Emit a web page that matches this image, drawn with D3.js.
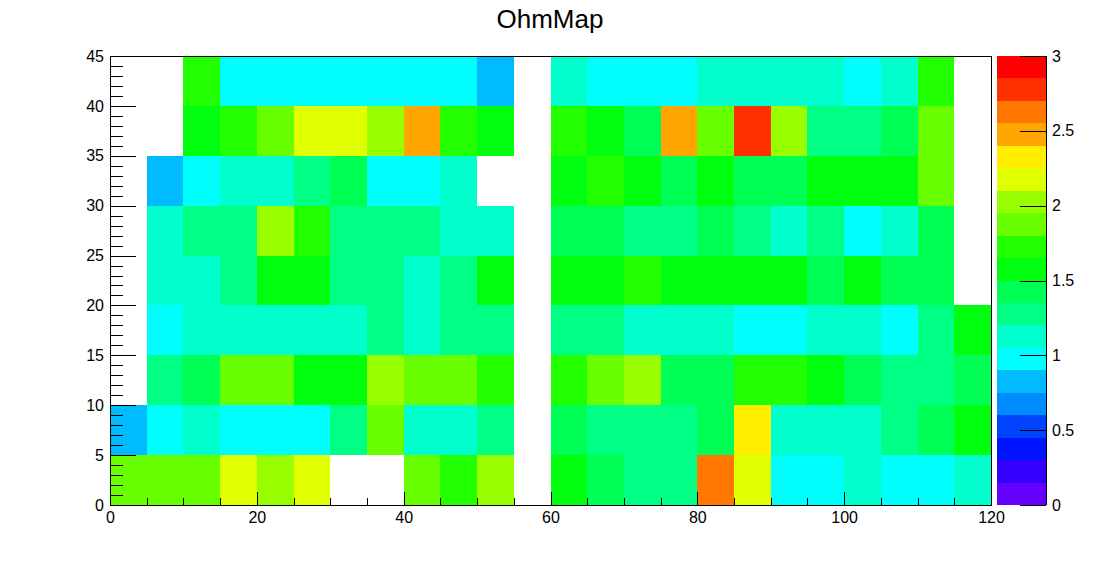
<!DOCTYPE html>
<html>
<head>
<meta charset="utf-8">
<script src="https://cdn.jsdelivr.net/npm/d3@7"></script>
<style>
  body { margin: 0; background: #fff; }
  svg { display: block; }
  text { font-family: "Liberation Sans", Arial, Helvetica, sans-serif; }
</style>
</head>
<body>
<svg id="chart" width="1102" height="562"></svg>
<script>
// ---- data ----
const title = "OhmMap";
const xBinEdges = d3.range(0, 125, 5);      // 0..120, 24 bins
const yBinEdges = d3.range(0, 50, 5);       // 0..45, 9 bins
const xTickLabels = [0, 20, 40, 60, 80, 100, 120];
const yTickLabels = [0, 5, 10, 15, 20, 25, 30, 35, 40, 45];
const zTickLabels = [0, 0.5, 1, 1.5, 2, 2.5, 3];
const zMin = 0, zMax = 3, nContours = 20;

// cell values, one row per y bin (bottom row first), one entry per x bin; null = empty
const row0  = [1.87,1.88,1.86,2.17,2.02,2.18,null,null,1.87,1.72,2.03,null,1.57,1.42,1.27,1.28,2.62,2.17,0.97,0.98,1.12,0.97,0.98,1.13];
const row5  = [0.82,0.97,1.12,0.98,0.97,0.96,1.27,1.88,1.12,1.13,1.28,null,1.42,1.27,1.28,1.27,1.43,2.32,1.12,1.13,1.12,1.27,1.42,1.57];
const row10 = [null,1.27,1.42,1.87,1.88,1.57,1.58,2.02,1.87,1.88,1.72,null,1.72,1.87,2.03,1.42,1.43,1.72,1.73,1.57,1.42,1.27,1.28,1.42];
const row15 = [null,0.97,1.12,1.13,1.12,1.13,1.12,1.27,1.12,1.28,1.27,null,1.27,1.28,1.12,1.13,1.12,0.97,0.98,1.12,1.13,0.97,1.27,1.57];
const row20 = [null,1.12,1.13,1.27,1.57,1.58,1.27,1.28,1.12,1.27,1.57,null,1.57,1.58,1.72,1.57,1.58,1.57,1.58,1.42,1.57,1.42,1.43,null];
const row25 = [null,1.12,1.27,1.28,2.02,1.72,1.27,1.28,1.27,1.12,1.13,null,1.42,1.43,1.27,1.28,1.42,1.27,1.12,1.27,0.97,1.12,1.42,null];
const row30 = [null,0.82,0.97,1.12,1.13,1.27,1.42,0.97,0.98,1.12,null,null,1.57,1.72,1.58,1.42,1.57,1.42,1.43,1.57,1.58,1.57,1.87,null];
const row35 = [null,null,1.57,1.72,1.87,2.17,2.18,2.02,2.47,1.72,1.57,null,1.72,1.57,1.42,2.47,1.87,2.77,2.02,1.27,1.28,1.42,1.87,null];
const row40 = [null,null,1.72,0.97,0.98,0.97,0.96,0.97,0.98,0.97,0.82,null,1.12,0.97,0.98,0.97,1.12,1.13,1.12,1.13,0.97,1.12,1.72,null];
const rows = [row0, row5, row10, row15, row20, row25, row30, row35, row40];

// ---- layout ----
const svg = d3.select("#chart");
const frame = { left: 110, right: 991, top: 56, bottom: 505 };
const pal = { left: 997, right: 1046 };

const x = d3.scaleLinear().domain([0, 120]).range([frame.left, frame.right]);
const y = d3.scaleLinear().domain([0, 45]).range([frame.bottom, frame.top]);
const z = d3.scaleLinear().domain([zMin, zMax]).range([frame.bottom, frame.top]);

// ROOT "pretty" rainbow palette (50 colours, HLS hue 280 -> 0), sampled for 20 contours
const pretty = d3.range(50).map(i => d3.hsl(280 - (i + 1) * 5.6, 1, 0.5).formatHex());
const contourColors = d3.range(nContours).map(k => pretty[Math.floor((k + 0.99) * 50 / nContours)]);
const levels = d3.range(1, nContours).map(k => zMin + k * (zMax - zMin) / nContours);
const color = d3.scaleThreshold().domain(levels).range(contourColors);

// ---- cells ----
const cells = [];
rows.forEach((r, j) => r.forEach((v, i) => {
  if (v !== null) cells.push({ x0: xBinEdges[i], x1: xBinEdges[i + 1], y0: yBinEdges[j], y1: yBinEdges[j + 1], v });
}));
svg.append("g").selectAll("rect").data(cells).join("rect")
  .attr("x", d => x(d.x0))
  .attr("y", d => y(d.y1))
  .attr("width", d => x(d.x1) - x(d.x0))
  .attr("height", d => y(d.y0) - y(d.y1))
  .attr("fill", d => color(d.v))
  .attr("shape-rendering", "crispEdges");

// ---- frame ----
svg.append("rect")
  .attr("x", frame.left).attr("y", frame.top)
  .attr("width", frame.right - frame.left).attr("height", frame.bottom - frame.top)
  .attr("fill", "none").attr("stroke", "#000").attr("stroke-width", 1)
  .attr("shape-rendering", "crispEdges");

function styleAxis(g, fs) {
  g.select(".domain").remove();
  g.selectAll("line").attr("stroke", "#000").attr("shape-rendering", "crispEdges");
  g.selectAll("text").attr("font-size", fs).attr("fill", "#000")
    .attr("font-family", "'Liberation Sans', Arial, Helvetica, sans-serif");
}

// x axis
svg.append("g").attr("transform", `translate(0,${frame.bottom})`)
  .call(d3.axisBottom(x).tickValues(d3.range(0, 121, 5)).tickSize(-7).tickFormat(""))
  .call(g => styleAxis(g, 16));
svg.append("g").attr("transform", `translate(0,${frame.bottom})`)
  .call(d3.axisBottom(x).tickValues(xTickLabels).tickSize(-13).tickPadding(9).tickFormat(d3.format("d")))
  .call(g => styleAxis(g, 16))
  .call(g => g.selectAll("text").attr("y", 7));

// y axis
svg.append("g").attr("transform", `translate(${frame.left},0)`)
  .call(d3.axisLeft(y).tickValues(d3.range(0, 46, 1)).tickSize(-13).tickFormat(""))
  .call(g => styleAxis(g, 16));
svg.append("g").attr("transform", `translate(${frame.left},0)`)
  .call(d3.axisLeft(y).tickValues(yTickLabels).tickSize(-26).tickFormat(d3.format("d")))
  .call(g => styleAxis(g, 16))
  .call(g => g.selectAll("text").attr("x", -6));

// ---- palette ----
const bands = d3.range(nContours).map(k => ({
  lo: zMin + k * (zMax - zMin) / nContours,
  hi: zMin + (k + 1) * (zMax - zMin) / nContours,
  c: contourColors[k]
}));
svg.append("g").selectAll("rect").data(bands).join("rect")
  .attr("x", pal.left)
  .attr("y", d => z(d.hi))
  .attr("width", pal.right - pal.left)
  .attr("height", d => z(d.lo) - z(d.hi))
  .attr("fill", d => d.c)
  .attr("shape-rendering", "crispEdges");

svg.append("g").attr("transform", `translate(${pal.right},0)`)
  .call(d3.axisRight(z).tickValues(zTickLabels).tickSize(-26).tickPadding(6).tickFormat(d => String(d)))
  .call(g => {
    g.select(".domain").attr("d", `M0,${frame.bottom}V${frame.top}`).attr("stroke", "#000").attr("shape-rendering", "crispEdges");
    g.selectAll("line").attr("stroke", "#000").attr("shape-rendering", "crispEdges");
    g.selectAll("text").attr("font-size", 16).attr("fill", "#000").attr("x", 6);
  });

// ---- title ----
svg.append("text")
  .attr("x", 550).attr("y", 28)
  .attr("text-anchor", "middle")
  .attr("font-size", 26)
  .attr("fill", "#000")
  .text(title);
</script>
</body>
</html>
